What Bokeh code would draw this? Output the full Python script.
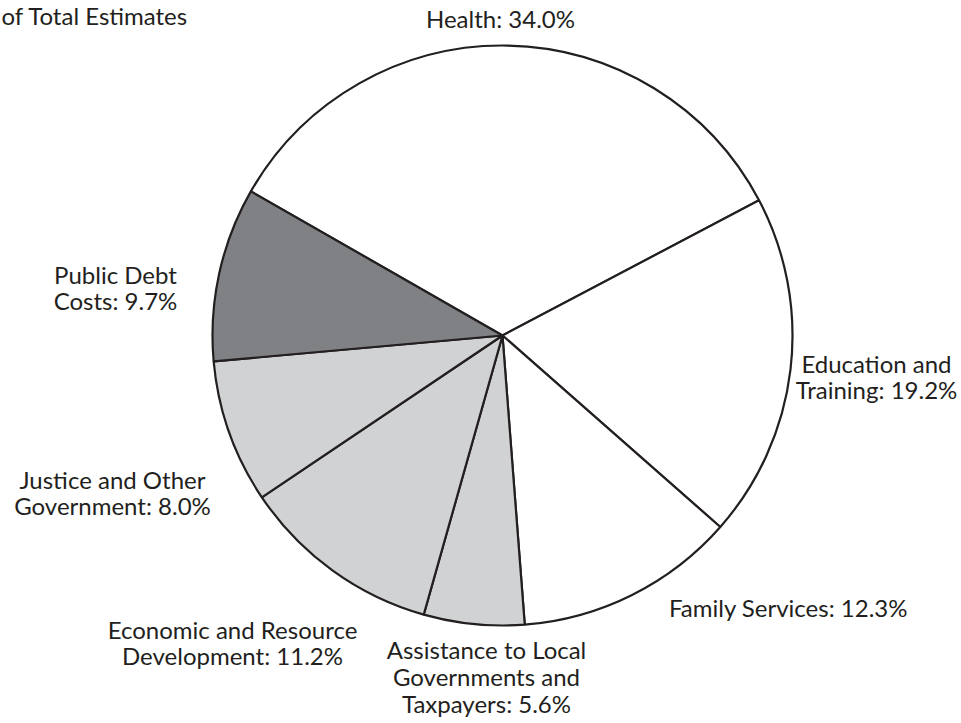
import numpy as np
from bokeh.plotting import figure
from bokeh.models import Range1d, ColumnDataSource
from bokeh.core.properties import value
from bokeh.embed import file_html
from bokeh.resources import INLINE

# ---- data ----
categories = ["Health", "Education and Training", "Family Services",
              "Assistance to Local Governments and Taxpayers",
              "Economic and Resource Development",
              "Justice and Other Government", "Public Debt Costs"]
percent = [34.0, 19.2, 12.3, 5.6, 11.2, 8.0, 9.7]
labels = ["Health: 34.0%", "Education and\nTraining: 19.2%", "Family Services: 12.3%",
          "Assistance to Local\nGovernments and\nTaxpayers: 5.6%",
          "Economic and Resource\nDevelopment: 11.2%",
          "Justice and Other\nGovernment: 8.0%", "Public Debt\nCosts: 9.7%"]
fills = ["#ffffff", "#ffffff", "#ffffff", "#d1d2d4", "#d1d2d4", "#d1d2d4", "#808184"]
title_text = "of Total Estimates"

# ---- layout (screen pixel coords) ----
W, H = 961, 723
def Y(sy):
    return H - sy

cx, cy, r = 502, Y(335), 290
A = np.deg2rad(150.2)          # boundary between Public Debt and Health
vals = np.array(percent)
cum = np.concatenate([[0], np.cumsum(vals)]) / vals.sum() * 2 * np.pi
starts = A - cum[1:]           # slices run clockwise from A
ends = A - cum[:-1]

src = ColumnDataSource(dict(start=starts, end=ends, fill=fills, cat=categories))

p = figure(width=W, height=H, output_backend="svg", toolbar_location=None,
           x_range=Range1d(0, W), y_range=Range1d(0, H), min_border=0)
p.axis.visible = False
p.grid.visible = False
p.outline_line_color = None
p.background_fill_color = "white"

p.wedge(x=cx, y=cy, radius=r, start_angle="start", end_angle="end",
        fill_color="fill", line_color="#231f20", line_width=2.2, source=src)

off = 1
lx = [500, 876, 788, 486, 232, 112, 115]
ly = [Y(17 + off), Y(375 + off), Y(606 + off), Y(675 + off), Y(641 + off),
      Y(491 + off), Y(286 + off)]
lsrc = ColumnDataSource(dict(x=lx, y=ly, t=labels))
p.text(x="x", y="y", text="t", source=lsrc, text_align="center",
       text_baseline="middle", text_font=value("Lato"), text_font_size="24px",
       text_color="#231f20", text_line_height=0.93)

p.text(x=[1], y=[Y(0)], text=[title_text], text_align="left",
       text_baseline="top", text_font=value("Lato"), text_font_size="24px",
       text_color="#231f20")

open("out.html", "w").write(file_html(p, INLINE))
